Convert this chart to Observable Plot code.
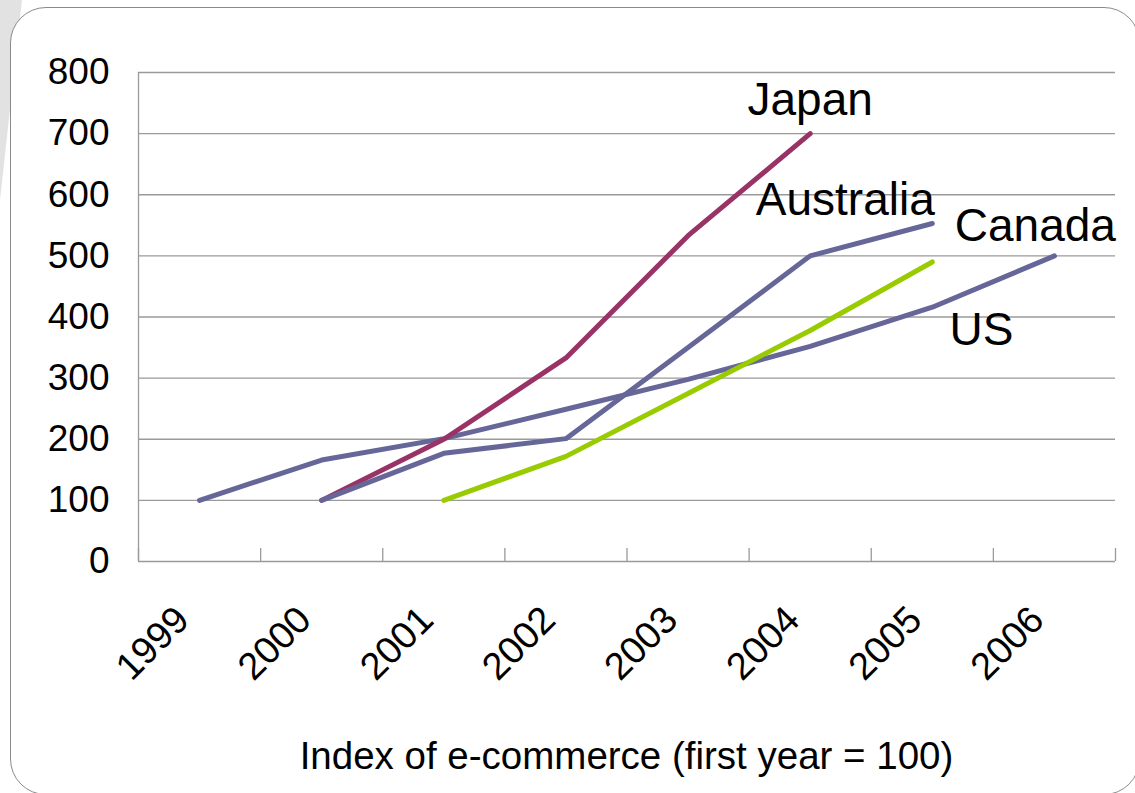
<!DOCTYPE html>
<html>
<head>
<meta charset="utf-8">
<script src="https://cdn.jsdelivr.net/npm/d3@7"></script>
<script src="https://cdn.jsdelivr.net/npm/@observablehq/plot@0.6"></script>
<style>
  html, body { margin: 0; padding: 0; background: #fff; }
  #wrap { position: relative; width: 1135px; height: 793px; overflow: hidden; background: #fff; font-family: "Liberation Sans", Arial, sans-serif; }
  #stripe { position: absolute; left: 0; top: 0; }
  #frame { position: absolute; left: 10px; top: 7px; width: 1130px; height: 788px; border: 1.5px solid #8a8a8a; border-radius: 36px; background: #fff; box-sizing: border-box; }
  #chart { position: absolute; left: 0; top: 0; }
  #caption { position: absolute; left: 138px; width: 977px; top: 737px; text-align: center; font-size: 38.5px; line-height: 1; color: #000; white-space: nowrap; }
</style>
</head>
<body>
<div id="wrap">
  <svg id="stripe" width="40" height="220"><polygon points="0,0 22,0 0,200" fill="#e2e2e2"/></svg>
  <div id="frame"></div>
  <div id="chart"></div>
  <div id="caption">Index of e-commerce (first year = 100)</div>
</div>
<script>
// ---- data ----
const years = [1999, 2000, 2001, 2002, 2003, 2004, 2005, 2006];
const countries = ["US", "Japan", "Australia", "Canada"];
const usValues        = [100, 166, 201, 249, 298, 352, 416, 500];
const japanValues     = [null, 100, 200, 333, 533, 700, null, null];
const australiaValues = [null, 100, 177, 201, 350, 500, 553, null];
const canadaValues    = [null, null, 100, 172, 275, 378, 490, null];
const yTicks = [0, 100, 200, 300, 400, 500, 600, 700, 800];
const seriesColors = ["#666699", "#993366", "#666699", "#99cc00"];

const seriesValues = { US: usValues, Japan: japanValues, Australia: australiaValues, Canada: canadaValues };
const rows = [];
for (const c of countries) {
  seriesValues[c].forEach((v, i) => { if (v != null) rows.push({ country: c, year: years[i], value: v }); });
}
const lastPoints = countries.map(c => rows.filter(r => r.country === c).at(-1));
const boundaries = years.map(y => y - 0.5).concat([years.at(-1) + 0.5]);

// label offsets (style only)
const labelOffsets = { US: [-73, 74], Japan: [0, -33], Australia: [-87, -23], Canada: [103, -36] };

const chart = Plot.plot({
  width: 1135,
  height: 700,
  marginLeft: 138,
  marginRight: 20,
  marginTop: 72,
  marginBottom: 139,
  style: { fontFamily: "'Liberation Sans', Arial, sans-serif", fontSize: "37px", background: "transparent", color: "#000", overflow: "visible" },
  x: { domain: [years[0] - 0.5, years.at(-1) + 0.5] },
  y: { domain: [yTicks[0], yTicks.at(-1)] },
  color: { domain: countries, range: seriesColors },
  marks: [
    Plot.gridY(yTicks, { stroke: "#9a9a9a", strokeOpacity: 1, strokeWidth: 1.3 }),
    Plot.ruleX([boundaries[0]], { stroke: "#9a9a9a", strokeWidth: 1.3 }),
    Plot.axisX(boundaries, { tickSize: -13, tickFormat: () => "", stroke: "#9a9a9a", strokeWidth: 1.3, label: null }),
    Plot.axisY(yTicks, { tickSize: 0, tickPadding: 29, fontSize: 37, label: null, fill: "#000" }),
    Plot.axisX(years, { tickSize: 0, tickPadding: 52, tickRotate: -45, tickFormat: d => String(d), fontSize: 38, dx: -17, label: null, fill: "#000" }),
    Plot.line(rows, { x: "year", y: "value", z: "country", stroke: "country", strokeWidth: 5, strokeLinecap: "round", strokeLinejoin: "round" }),
    ...lastPoints.map(p => Plot.text([p], {
      x: "year", y: "value", text: "country",
      dx: labelOffsets[p.country][0], dy: labelOffsets[p.country][1],
      textAnchor: "middle", fontSize: 46, fill: "#000"
    }))
  ]
});
document.getElementById("chart").appendChild(chart);
</script>
</body>
</html>
